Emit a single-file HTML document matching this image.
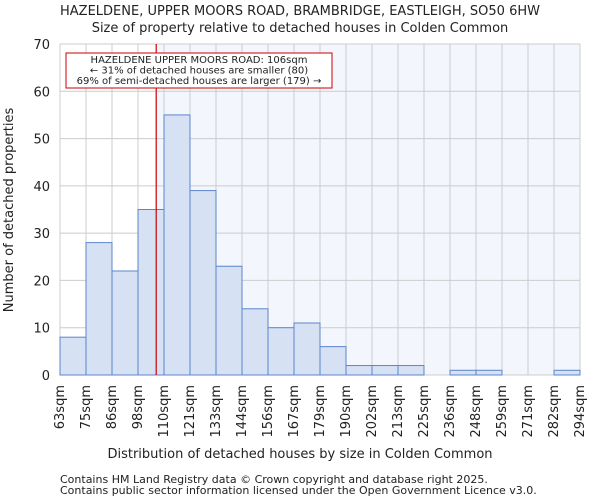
<!DOCTYPE html>
<html><head><meta charset="utf-8"><style>
body{margin:0;background:#fff;font-family:"DejaVu Sans","Liberation Sans",sans-serif}
svg text{font-family:"DejaVu Sans","Liberation Sans",sans-serif;fill:#222}
</style></head><body>
<svg id="c" width="600" height="500"></svg>
<script>
const labels=["63sqm","75sqm","86sqm","98sqm","110sqm","121sqm","133sqm","144sqm","156sqm","167sqm","179sqm","190sqm","202sqm","213sqm","225sqm","236sqm","248sqm","259sqm","271sqm","282sqm","294sqm"];
const counts=[8,28,22,35,55,39,23,14,10,11,6,2,2,2,0,1,1,0,0,1];
const yTicks=[0,10,20,30,40,50,60,70];
const propertyPos=3.7;
const L=60,R=580,T=44,B=375,yMax=70;
const bw=(R-L)/counts.length;
const x=i=>L+i*bw, y=v=>B-(v/yMax)*(B-T);
const s=document.getElementById('c');const NS="http://www.w3.org/2000/svg";
function mk(t,a,txt){const e=document.createElementNS(NS,t);for(const k in a)e.setAttribute(k,a[k]);if(txt!=null)e.textContent=txt;s.appendChild(e);return e;}
let e;
e=mk('rect',{x:x(propertyPos),y:T,width:R-x(propertyPos),height:B-T,fill:'#f4f6fd'});


yTicks.forEach(v=>{e=mk('line',{x1:L,x2:R,y1:y(v),y2:y(v),stroke:'#ccc','stroke-width':1});


e=mk('text',{x:L-10,y:y(v)+5,'text-anchor':'end','font-size':13},v);

});
labels.forEach((l,i)=>{e=mk('line',{x1:x(i),x2:x(i),y1:T,y2:B,stroke:'#ccc','stroke-width':1});


const tx=x(i)+4;e=mk('text',{x:tx,y:B+10,'text-anchor':'end','font-size':13,transform:`rotate(-90 ${tx} ${B+10})`},l);

});
counts.forEach((v,i)=>{if(v<=0)return;e=mk('rect',{x:x(i),y:y(v),width:bw,height:B-y(v),fill:'#d6e1f4',stroke:'#5b85cc','stroke-width':1});

});
e=mk('line',{x1:x(propertyPos),x2:x(propertyPos),y1:T,y2:B,stroke:'#cc0000','stroke-width':1.2});


e=mk('rect',{x:66,y:53,width:266,height:35,fill:'#fff',stroke:'#cc0000','stroke-width':1});


[["HAZELDENE UPPER MOORS ROAD: 106sqm",63],["← 31% of detached houses are smaller (80)",73.5],["69% of semi-detached houses are larger (179) →",84]].forEach(a=>{e=mk('text',{x:199,y:a[1],'text-anchor':'middle','font-size':10},a[0]);

});
e=mk('text',{x:300,y:15,'text-anchor':'middle','font-size':13},"HAZELDENE, UPPER MOORS ROAD, BRAMBRIDGE, EASTLEIGH, SO50 6HW");


e=mk('text',{x:300,y:32,'text-anchor':'middle','font-size':13},"Size of property relative to detached houses in Colden Common");


e=mk('text',{x:300,y:458,'text-anchor':'middle','font-size':13},"Distribution of detached houses by size in Colden Common");


e=mk('text',{x:13,y:210,'text-anchor':'middle','font-size':13,transform:'rotate(-90 13 210)'},"Number of detached properties");


e=mk('text',{x:60,y:483,'font-size':11},"Contains HM Land Registry data © Crown copyright and database right 2025.");


e=mk('text',{x:60,y:494,'font-size':11},"Contains public sector information licensed under the Open Government Licence v3.0.");


</script>
</body></html>
